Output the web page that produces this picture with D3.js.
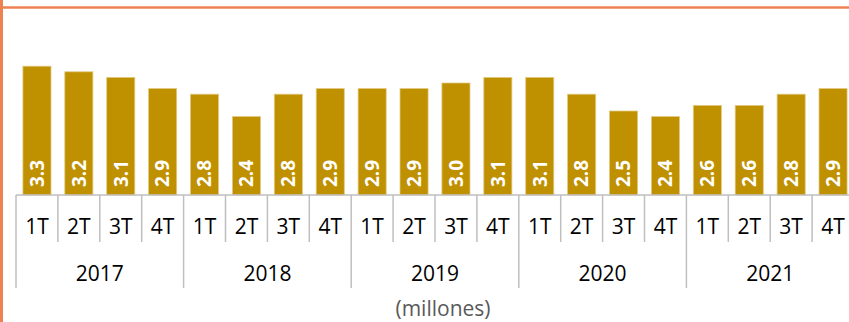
<!DOCTYPE html>
<html>
<head>
<meta charset="utf-8">
<script src="https://cdn.jsdelivr.net/npm/d3@7"></script>
<style>
  html, body { margin: 0; padding: 0; background: #fff; }
  svg { display: block; font-family: "Open Sans", Lato, sans-serif; }
</style>
</head>
<body>
<svg id="chart" width="849" height="322"></svg>
<script>
// Quarterly values (millones), 2017–2021
const years = ["2017", "2018", "2019", "2020", "2021"];
const quarters = ["1T", "2T", "3T", "4T"];
const values = [
  3.3, 3.2, 3.1, 2.9,
  2.8, 2.4, 2.8, 2.9,
  2.9, 2.9, 3.0, 3.1,
  3.1, 2.8, 2.5, 2.4,
  2.6, 2.6, 2.8, 2.9
];
const unitLabel = "(millones)";

const rows = values.map((v, i) => ({
  key: years[Math.floor(i / 4)] + "-" + quarters[i % 4],
  year: years[Math.floor(i / 4)],
  quarter: quarters[i % 4],
  value: v
}));

const svg = d3.select("#chart");
const W = 849, H = 322;
const baseY = 195;
const slot = 41.9;
const left = 16;

const x = d3.scaleBand()
  .domain(rows.map(d => d.key))
  .range([left, left + slot * rows.length])
  .paddingInner(0.33)
  .paddingOuter(0.165);

const y = d3.scaleLinear().domain([1, 4.5]).range([baseY, -1]);

const frame = "#EE8152";
const grid = "#BFBFBF";

// frame lines
svg.append("line").attr("x1", 0).attr("x2", W).attr("y1", 7.5).attr("y2", 7.5)
  .attr("stroke", frame).attr("stroke-width", 2.5);
svg.append("line").attr("x1", 1.5).attr("x2", 1.5).attr("y1", 0).attr("y2", H)
  .attr("stroke", frame).attr("stroke-width", 3);

// bars
svg.append("g").selectAll("rect").data(rows).join("rect")
  .attr("x", d => x(d.key))
  .attr("y", d => y(d.value))
  .attr("width", x.bandwidth())
  .attr("height", d => baseY - y(d.value))
  .attr("fill", "#BF9000")
  .attr("stroke", "#E2C97E")
  .attr("stroke-width", 0.8);

// value labels, rotated inside the bars
svg.append("g").selectAll("text").data(rows).join("text")
  .attr("transform", d => `translate(${x(d.key) + x.bandwidth() / 2},${baseY - 8}) rotate(-90)`)
  .attr("dy", "0.36em")
  .attr("fill", "#fff")
  .attr("font-weight", "bold")
  .attr("font-size", 19)
  .text(d => d.value.toFixed(1));

// category axis: baseline, quarter dividers, year dividers
const axis = svg.append("g");
axis.append("line")
  .attr("x1", left).attr("x2", W)
  .attr("y1", baseY).attr("y2", baseY)
  .attr("stroke", grid).attr("stroke-width", 1.5);

const step = x.step();
const bandStart = i => left + i * step;

d3.range(rows.length + 1).forEach(i => {
  const isYear = i % 4 === 0;
  axis.append("line")
    .attr("x1", bandStart(i)).attr("x2", bandStart(i))
    .attr("y1", baseY).attr("y2", isYear ? 288 : 242)
    .attr("stroke", grid).attr("stroke-width", 1.5);
});

axis.selectAll("text.q").data(rows).join("text")
  .attr("class", "q")
  .attr("x", d => x(d.key) + x.bandwidth() / 2)
  .attr("y", 234)
  .attr("text-anchor", "middle")
  .attr("font-size", 21)
  .attr("fill", "#000")
  .text(d => d.quarter);

axis.selectAll("text.y").data(years).join("text")
  .attr("class", "y")
  .attr("x", (d, i) => bandStart(i * 4) + step * 2)
  .attr("y", 281)
  .attr("text-anchor", "middle")
  .attr("font-size", 21)
  .attr("fill", "#000")
  .text(d => d);

svg.append("text")
  .attr("x", 443).attr("y", 316)
  .attr("text-anchor", "middle")
  .attr("font-size", 21)
  .attr("fill", "#595959")
  .text(unitLabel);
</script>
</body>
</html>
